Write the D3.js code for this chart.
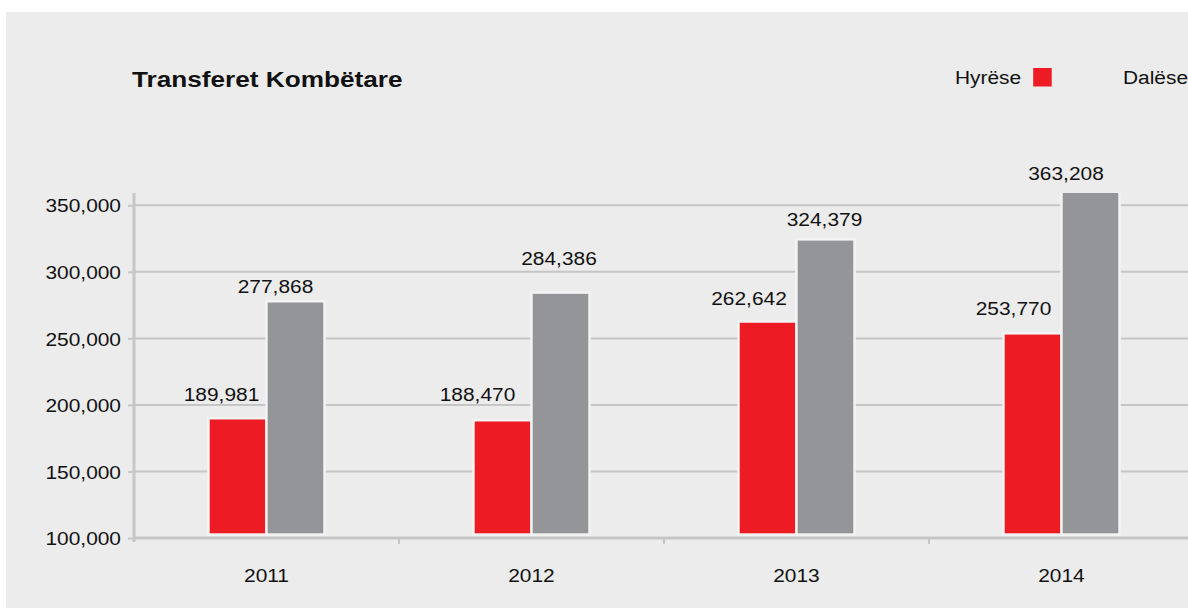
<!DOCTYPE html>
<html>
<head>
<meta charset="utf-8">
<script src="https://cdn.jsdelivr.net/npm/d3@7"></script>
<style>
  html, body { margin: 0; padding: 0; background: #ffffff; }
  svg { display: block; }
  text { font-family: "Liberation Sans", Arial, Helvetica, sans-serif; fill: #111111; }
</style>
</head>
<body>
<svg id="chart" width="1188" height="610"></svg>
<script>
// ---- data ----
const years = ["2011", "2012", "2013", "2014"];
const seriesNames = ["Hyrëse", "Dalëse"];
const hyrese = [189981, 188470, 262642, 253770];
const dalese = [277868, 284386, 324379, 363208];
const yTickValues = [100000, 150000, 200000, 250000, 300000, 350000];
const titleText = "Transferet Kombëtare";

// ---- styling / layout ----
const colors = { "Hyrëse": "#ed1c24", "Dalëse": "#939598" };
const panelColor = "#ececec";
const gridColor = "#c6c6c6";
const textStretch = 1.1;      // the type is set slightly wide
const titleStretch = 1.19;
const barBaseGap = 3.5;       // bars stop just above the axis rule
// value-label nudges [dx, lift above bar top] in px
const labelNudge = {
  "Hyrëse": [[-16, 17.6], [-25, 19.6], [-18.5, 16.7], [-19, 17.9]],
  "Dalëse": [[-20, 8.1], [-1.5, 27.7], [-1, 13.4], [-24.5, 7.7]]
};

const W = 1188, H = 610;
const plot = { left: 134, right: 1188, top: 193, bottom: 541 };

const svg = d3.select("#chart");

svg.append("rect").attr("x", 0).attr("y", 0).attr("width", W).attr("height", H).attr("fill", "#ffffff");
svg.append("rect").attr("x", 6).attr("y", 12).attr("width", W - 6).attr("height", 596).attr("fill", panelColor);

// ---- scales ----
const y = d3.scaleLinear().domain([100000, 350000]).range([538, 205.3]);
const x = d3.scaleBand().domain(years).range([134, 134 + 265 * years.length]).padding(0);
const xs = d3.scaleBand().domain(seriesNames).range([-58, 58]).padding(0);

const rows = years.map((yr, i) => ({ year: yr, values: [
  { key: "Hyrëse", value: hyrese[i], i },
  { key: "Dalëse", value: dalese[i], i }
]}));

// stretched text helper
function label(parent, px, py, str, opts = {}) {
  const sx = opts.sx || textStretch;
  return parent.append("text")
    .attr("transform", `translate(${px},${py}) scale(${sx},1)`)
    .attr("text-anchor", opts.anchor || "start")
    .style("font-size", (opts.size || 19) + "px")
    .style("font-weight", opts.weight || "normal")
    .text(str);
}

// ---- gridlines ----
svg.append("g").selectAll("line")
  .data(yTickValues.filter(v => v > 100000))
  .join("line")
  .attr("x1", plot.left).attr("x2", plot.right)
  .attr("y1", d => y(d)).attr("y2", d => y(d))
  .attr("stroke", gridColor).attr("stroke-width", 2);

// ---- y axis ----
const yAxis = svg.append("g")
  .attr("transform", `translate(${plot.left},0)`)
  .call(d3.axisLeft(y).tickValues(yTickValues).tickSize(6).tickPadding(13)
    .tickFormat(d3.format(",")));
yAxis.select(".domain").remove();
yAxis.selectAll(".tick line").attr("stroke", gridColor).attr("stroke-width", 2);
yAxis.selectAll(".tick text")
  .attr("x", -13 / textStretch)
  .attr("transform", `scale(${textStretch},1)`)
  .attr("dy", "0.35em")
  .style("font-size", "19px")
  .style("font-family", '"Liberation Sans", Arial, Helvetica, sans-serif')
  .attr("fill", "#111111");

// ---- bars ----
svg.append("clipPath").attr("id", "plotClip")
  .append("rect").attr("x", plot.left).attr("y", plot.top)
  .attr("width", plot.right - plot.left).attr("height", plot.bottom - plot.top);

const groups = svg.append("g").attr("clip-path", "url(#plotClip)")
  .selectAll("g").data(rows).join("g")
  .attr("transform", d => `translate(${x(d.year) + x.bandwidth() / 2},0)`);

groups.selectAll("rect").data(d => d.values).join("rect")
  .attr("x", d => xs(d.key))
  .attr("width", xs.bandwidth())
  .attr("y", d => y(d.value))
  .attr("height", d => y(100000) - barBaseGap - y(d.value))
  .attr("fill", d => colors[d.key])
  .attr("stroke", "#f4f4f4")
  .attr("stroke-width", 2.4);

// ---- axis lines ----
svg.append("line")
  .attr("x1", plot.left).attr("x2", plot.right)
  .attr("y1", y(100000)).attr("y2", y(100000))
  .attr("stroke", gridColor).attr("stroke-width", 3);
svg.append("line")
  .attr("x1", plot.left).attr("x2", plot.left)
  .attr("y1", plot.top).attr("y2", plot.bottom + 1)
  .attr("stroke", gridColor).attr("stroke-width", 3);

// x axis: ticks at band boundaries, labels at band centres
const xAxis = svg.append("g").attr("transform", `translate(0,${y(100000)})`);
xAxis.selectAll("line").data(years.slice(1)).join("line")
  .attr("x1", d => x(d)).attr("x2", d => x(d))
  .attr("y1", 1).attr("y2", 6)
  .attr("stroke", gridColor).attr("stroke-width", 2);
years.forEach(yr => label(svg, x(yr) + x.bandwidth() / 2, 582, yr, { anchor: "middle" }));

// ---- value labels ----
rows.forEach(r => r.values.forEach(v => {
  const [dx, lift] = labelNudge[v.key][v.i];
  const cx = x(r.year) + x.bandwidth() / 2 + xs(v.key) + xs.bandwidth() / 2 + dx;
  label(svg, cx, y(v.value) - lift, d3.format(",")(v.value), { anchor: "middle" });
}));

// ---- title ----
label(svg, 132, 87, titleText, { size: 22, weight: "bold", sx: titleStretch });

// ---- legend: name then swatch ----
const legendX = [955, 1123];
seriesNames.forEach((name, i) => {
  const t = label(svg, legendX[i], 83.5, name, { size: 19 });
  const w = t.node().getComputedTextLength() * textStretch;
  svg.append("rect")
    .attr("x", legendX[i] + w + 12).attr("y", 68)
    .attr("width", 18.5).attr("height", 18.5)
    .attr("fill", colors[name]);
});
</script>
</body>
</html>
